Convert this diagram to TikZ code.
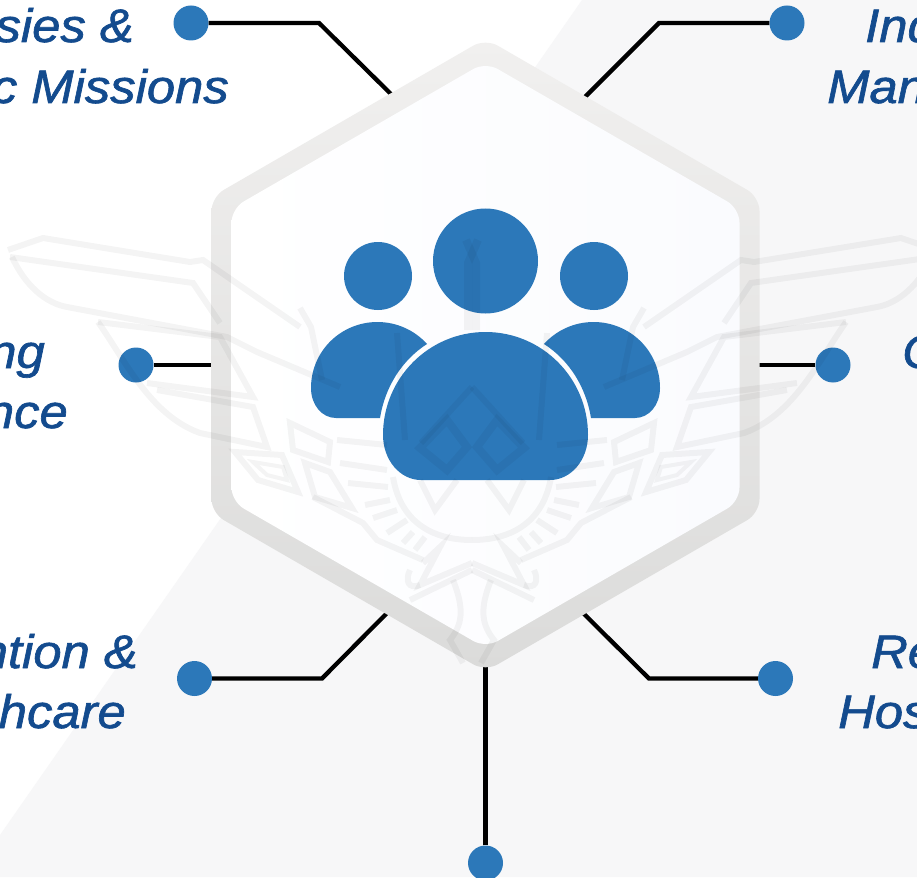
\documentclass[tikz,border=0pt]{standalone}
\usepackage{fontspec}
\setmainfont{Liberation Sans}[FakeStretch=1.08,FakeBold=1.4]
\definecolor{dd}{RGB}{44, 120, 185}
\definecolor{tt}{RGB}{19, 75, 142}
\definecolor{bb}{RGB}{247, 247, 248}
\definecolor{hh}{RGB}{250, 251, 254}
\definecolor{rimtop}{RGB}{241, 240, 239}
\definecolor{rimlow}{RGB}{219, 219, 218}
\tikzset{
	dotnode/.style={circle,fill=dd,minimum size=35pt,inner sep=0pt},
	wire/.style={line width=4.3pt,color=black,line join=miter},
	lblleft/.style={anchor=base east,color=tt,inner sep=0pt,font=\fontsize{47}{47}\selectfont\itshape},
	lblright/.style={anchor=base west,color=tt,inner sep=0pt,font=\fontsize{47}{47}\selectfont\itshape},
	mark line/.style={line width=6pt,color=black,opacity=.042,line join=miter}
}
% left half of the faint badge, the other half is mirrored
\newcommand{\badgehalf}{
	\draw[mark line] (8,250) -- (43,238) -- (190,262) -- (203,260) -- (300,327);
	\draw[mark line] (10,257) -- (193,283) -- (220,323);
	\draw[mark line] (12,257) .. controls (25,285) and (45,303) .. (67,307) -- (227,337) -- (257,352) -- (340,387);
	\draw[mark line] (98,322) -- (220,337) -- (253,397) -- (147,383);
	\draw[mark line] (98,322) .. controls (125,360) and (150,415) .. (200,433) -- (267,447) -- (253,407) -- (157,390);
	\draw[mark line] (300,308) -- (311,327) -- (322,380);
	\draw[mark line] (235,452) -- (282,455) -- (298,492) -- (258,480) -- cycle;
	\draw[mark line,line width=4pt] (253,462) -- (283,467) -- (287,480) -- (267,475) -- cycle;
	\draw[mark line] (290,423) -- (330,442) -- (328,462) -- (293,450) -- cycle;
	\draw[mark line] (305,463) -- (315,497) -- (352,508) -- (330,472) -- cycle;
	\draw[mark line] (337,440) -- (387,445);
	\draw[mark line] (340,463) -- (387,470);
	\draw[mark line] (348,483) -- (388,487);
	\draw[mark line] (313,497) -- (363,523) -- (377,540) -- (423,560);
	\draw[mark line] (393,477) .. controls (400,520) and (430,540) .. (472,540);
	\foreach \ax/\ay/\bx/\by in {365/505/390/500,373/518/397/510,387/533/407/520,403/543/413/532,415/550/425/537}
		\draw[mark line] (\ax,\ay) -- (\bx,\by);
	\draw[mark line] (423,563) -- (440,547) -- (420,585) -- (472,563);
	\draw[mark line] (410,600) -- (472,570);
	\draw[mark line] (410,570) .. controls (405,580) and (408,590) .. (420,585);
	\draw[mark line] (453,580) .. controls (465,610) and (462,625) .. (450,640) -- (463,663);
	\draw[mark line] (420,480) -- (435,510) -- (457,480);
	\draw[mark line,line width=8pt] (420,448) -- (447,420) -- (467,447) -- (447,470) -- cycle;
	\draw[mark line] (472,387) -- (421,443);
	\draw[mark line,line width=8pt] (468,330) -- (468,263) -- (478,240);
	\draw[mark line] (405,440) -- (397,333);
}
\begin{document}
\begin{tikzpicture}[x=1pt,y=-1pt]
\clip (0,0) rectangle (917,877);
\fill[white] (0,0) rectangle (917,877);
\fill[bb] (582,0) -- (917,0) -- (917,877) -- (0,877) -- (0,835) -- cycle;

% labels, cut by the page edge
\node[lblleft] (lblnwa) at (134,42) {ssies \&};
\node[lblleft] (lblnwb) at (229,103) {c Missions};
\node[lblleft] (lblwa) at (45,368) {ng};
\node[lblleft] (lblwb) at (68,428) {nce};
\node[lblleft] (lblswa) at (138,668) {ntion \&};
\node[lblleft] (lblswb) at (126,728) {hcare};
\node[lblright] (lblnea) at (865,42) {Ind};
\node[lblright] (lblneb) at (827,103) {Man};
\node[lblright] (lble) at (902,368) {C};
\node[lblright] (lblsea) at (871,668) {Re};
\node[lblright] (lblseb) at (838,728) {Hos};

% ends of the connectors, under the rim of the hexagon
\coordinate (hexnw) at (396,99);
\coordinate (hexne) at (581,101);
\coordinate (hexw) at (220,365);
\coordinate (hexe) at (750,365);
\coordinate (hexsw) at (392,608);
\coordinate (hexse) at (578,608);
\coordinate (hexs) at (485.5,660);
\node[dotnode] (dotnw) at (191,23) {};
\node[dotnode] (dotne) at (787,23) {};
\node[dotnode] (dotw) at (136,365) {};
\node[dotnode] (dote) at (833,365) {};
\node[dotnode] (dotsw) at (194.5,678.5) {};
\node[dotnode] (dotse) at (775.5,678.5) {};
\node[dotnode] (dots) at (485.5,863) {};
\coordinate (bendnw) at (319,23);
\coordinate (bendne) at (659,23);
\coordinate (bendsw) at (322,678.5);
\coordinate (bendse) at (649,678.5);

\draw[wire] (dotnw) -- (bendnw) -- (hexnw);
\draw[wire] (dotne) -- (bendne) -- (hexne);
\draw[wire] (dotw) -- (hexw);
\draw[wire] (dote) -- (hexe);
\draw[wire] (dotsw) -- (bendsw) -- (hexsw);
\draw[wire] (dotse) -- (bendse) -- (hexse);
\draw[wire] (dots) -- (hexs);

% hexagon
\shade[top color=rimtop,bottom color=rimlow,rounded corners=14pt]
	(485.5,38.6) -- (759.5,197) -- (759.5,513) -- (485.5,671.4) -- (211.5,513) -- (211.5,197) -- cycle;
\shade[left color=white,right color=hh,rounded corners=14pt]
	(485.5,62) -- (739.5,208.5) -- (739.5,501.5) -- (485.5,648) -- (231.5,501.5) -- (231.5,208.5) -- cycle;

% people
\fill[dd] (485.5,261) circle[radius=52.5pt];
\fill[dd] (378,276) circle[radius=34pt];
\fill[dd] (594,276) circle[radius=34pt];
\fill[dd] (427,344) .. controls (401.2,360.6) and (384.9,387.7) .. (380,418) -- (336,418)
	.. controls (322,418) and (311,405) .. (311,388) .. controls (311,351) and (341,322) .. (377.5,322)
	.. controls (396.35,322) and (414.4,330) .. (427,344) -- cycle;
\fill[dd] (544,344) .. controls (569.8,360.6) and (586.1,387.7) .. (591,418) -- (635,418)
	.. controls (649,418) and (660,405) .. (660,388) .. controls (660,351) and (630,322) .. (593.5,322)
	.. controls (574.65,322) and (556.6,330) .. (544,344) -- cycle;
\fill[dd] (383,435) .. controls (383,378) and (429,332) .. (485.5,332) .. controls (542,332) and (588,378) .. (588,435)
	.. controls (588,460) and (571,480) .. (550,480) -- (421,480) .. controls (400,480) and (383,460) .. (383,435) -- cycle;

% faint badge over everything in the middle
\badgehalf
\begin{scope}[xshift=944pt,xscale=-1]
\badgehalf
\end{scope}
\end{tikzpicture}
\end{document}
